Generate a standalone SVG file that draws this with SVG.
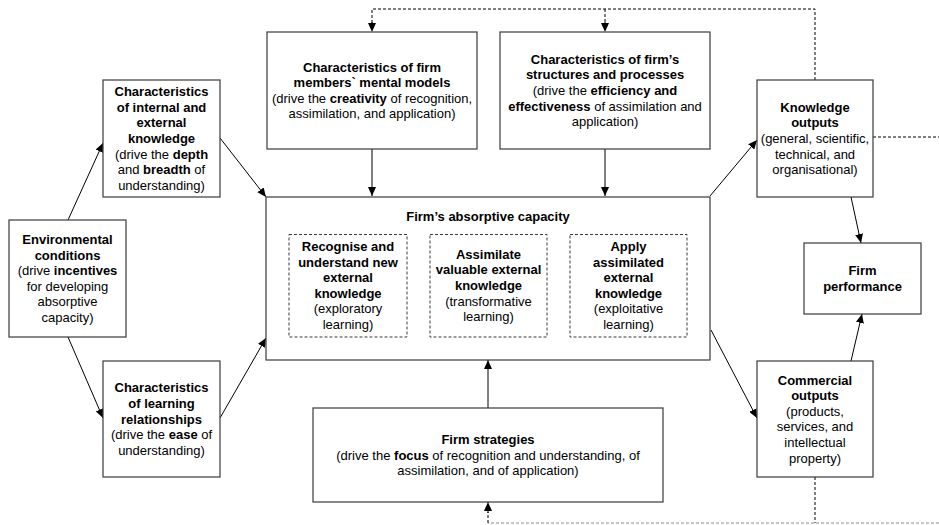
<svg xmlns="http://www.w3.org/2000/svg" width="939" height="525" viewBox="0 0 939 525">
  <style>
    .box { fill: #ffffff; stroke: #3a3a3a; stroke-width: 1.2; }
    .inner { fill: #ffffff; stroke: #3a3a3a; stroke-width: 1; stroke-dasharray: 3 2; }
    .t { font-family: "Liberation Sans", Arial, sans-serif; font-size: 13px; fill: #000; text-anchor: middle; }
    .b { font-weight: bold; }
    .arrow { fill: none; stroke: #000; stroke-width: 1; marker-end: url(#head); }
    .dash { fill: none; stroke: #000; stroke-width: 1; stroke-dasharray: 3 2; }
    .dash-grey { fill: none; stroke: #8a8a8a; stroke-width: 1; stroke-dasharray: 3 2; }
  </style>
  <defs>
    <marker id="head" markerWidth="10" markerHeight="8" refX="9" refY="4" orient="auto" markerUnits="userSpaceOnUse">
      <path d="M0,0 L9,4 L0,8 Z" fill="#000"/>
    </marker>
  </defs>

  <rect width="939" height="525" fill="#ffffff"/>

  <!-- connectors -->
  <g id="connectors">
    <!-- feedback from knowledge outputs to the top boxes -->
    <path class="dash" d="M815,80 V9 H372 V23"/>
    <path class="dash" d="M605,9 V23"/>
    <path class="arrow" d="M372,22 V32" stroke-dasharray="3 2"/>
    <path class="arrow" d="M605,22 V32" stroke-dasharray="3 2"/>
    <!-- outflow from knowledge outputs -->
    <path class="dash" d="M873,137 H939"/>
    <!-- feedback from commercial outputs to firm strategies -->
    <path class="dash" d="M815,477 V523"/>
    <path class="dash-grey" d="M939,523 H488"/>
    <path class="dash" d="M488,523 V512"/>
    <path class="arrow" d="M488,513 V502" stroke-dasharray="3 2"/>

    <!-- environment to characteristics -->
    <path class="arrow" d="M68,220 L103,143"/>
    <path class="arrow" d="M68,337 L103,418"/>
    <!-- characteristics to absorptive capacity -->
    <path class="arrow" d="M220,138 L266,197"/>
    <path class="arrow" d="M220,418 L266,338"/>
    <path class="arrow" d="M372,149 V196"/>
    <path class="arrow" d="M605,149 V196"/>
    <path class="arrow" d="M488,408 V360"/>
    <!-- inner process steps -->
    <path class="arrow" d="M407,286 H430"/>
    <path class="arrow" d="M547,286 H570"/>
    <!-- outputs -->
    <path class="arrow" d="M710,196 L757,140"/>
    <path class="arrow" d="M711,330 L757,418"/>
    <path class="arrow" d="M851,197 L861,243"/>
    <path class="arrow" d="M851,361 L862,314"/>
  </g>

  <g id="env">
    <rect class="box" x="9" y="220" width="117" height="117"/>
    <text class="t b" x="67.5" y="244">Environmental</text>
    <text class="t b" x="67.5" y="259.6">conditions</text>
    <text class="t" x="67.5" y="275.2">(drive <tspan class="b">incentives</tspan></text>
    <text class="t" x="67.5" y="290.8">for developing</text>
    <text class="t" x="67.5" y="306.4">absorptive</text>
    <text class="t" x="67.5" y="322">capacity)</text>
  </g>

  <g id="knowledge-chars">
    <rect class="box" x="103" y="80" width="117" height="117"/>
    <text class="t b" x="161.5" y="96.2">Characteristics</text>
    <text class="t b" x="161.5" y="111.8">of internal and</text>
    <text class="t b" x="161.5" y="127.4">external</text>
    <text class="t b" x="161.5" y="143">knowledge</text>
    <text class="t" x="161.5" y="158.6">(drive the <tspan class="b">depth</tspan></text>
    <text class="t" x="161.5" y="174.2">and <tspan class="b">breadth</tspan> of</text>
    <text class="t" x="161.5" y="189.8">understanding)</text>
  </g>

  <g id="relationship-chars">
    <rect class="box" x="103" y="361" width="117" height="116"/>
    <text class="t b" x="161.5" y="392.3">Characteristics</text>
    <text class="t b" x="161.5" y="407.9">of learning</text>
    <text class="t b" x="161.5" y="423.5">relationships</text>
    <text class="t" x="161.5" y="439.1">(drive the <tspan class="b">ease</tspan> of</text>
    <text class="t" x="161.5" y="454.7">understanding)</text>
  </g>

  <g id="mental-models">
    <rect class="box" x="267" y="32" width="210" height="117"/>
    <text class="t b" x="372" y="71.6">Characteristics of firm</text>
    <text class="t b" x="372" y="87.2">members` mental models</text>
    <text class="t" x="372" y="102.8">(drive the <tspan class="b">creativity</tspan> of recognition,</text>
    <text class="t" x="372" y="118.4">assimilation, and application)</text>
  </g>

  <g id="structures">
    <rect class="box" x="500" y="32" width="210" height="117"/>
    <text class="t b" x="605" y="63.8">Characteristics of firm’s</text>
    <text class="t b" x="605" y="79.4">structures and processes</text>
    <text class="t" x="605" y="95">(drive the <tspan class="b">efficiency and</tspan></text>
    <text class="t" x="605" y="110.6"><tspan class="b">effectiveness</tspan> of assimilation and</text>
    <text class="t" x="605" y="126.2">application)</text>
  </g>

  <g id="absorptive-capacity">
    <rect class="box" x="266" y="197" width="444" height="163"/>
    <text class="t b" x="488" y="220.5">Firm’s absorptive capacity</text>
  </g>

  <g id="recognise">
    <rect class="inner" x="289" y="234.5" width="118" height="102.5"/>
    <text class="t b" x="348" y="251">Recognise and</text>
    <text class="t b" x="348" y="266.6">understand new</text>
    <text class="t b" x="348" y="282.2">external</text>
    <text class="t b" x="348" y="297.8">knowledge</text>
    <text class="t" x="348" y="313.4">(exploratory</text>
    <text class="t" x="348" y="329">learning)</text>
  </g>

  <g id="assimilate">
    <rect class="inner" x="430" y="234.5" width="117" height="102.5"/>
    <text class="t b" x="488.5" y="258.8">Assimilate</text>
    <text class="t b" x="488.5" y="274.4">valuable external</text>
    <text class="t b" x="488.5" y="290">knowledge</text>
    <text class="t" x="488.5" y="305.6">(transformative</text>
    <text class="t" x="488.5" y="321.2">learning)</text>
  </g>

  <g id="apply">
    <rect class="inner" x="570" y="234.5" width="117" height="102.5"/>
    <text class="t b" x="628.5" y="251">Apply</text>
    <text class="t b" x="628.5" y="266.6">assimilated</text>
    <text class="t b" x="628.5" y="282.2">external</text>
    <text class="t b" x="628.5" y="297.8">knowledge</text>
    <text class="t" x="628.5" y="313.4">(exploitative</text>
    <text class="t" x="628.5" y="329">learning)</text>
  </g>

  <g id="strategies">
    <rect class="box" x="313" y="408" width="350" height="94"/>
    <text class="t b" x="488" y="443.9">Firm strategies</text>
    <text class="t" x="488" y="459.5">(drive the <tspan class="b">focus</tspan> of recognition and understanding, of</text>
    <text class="t" x="488" y="475.1">assimilation, and of application)</text>
  </g>

  <g id="knowledge-outputs">
    <rect class="box" x="757" y="80" width="116" height="117"/>
    <text class="t b" x="815" y="111.8">Knowledge</text>
    <text class="t b" x="815" y="127.4">outputs</text>
    <text class="t" x="815" y="143">(general, scientific,</text>
    <text class="t" x="815" y="158.6">technical, and</text>
    <text class="t" x="815" y="174.2">organisational)</text>
  </g>

  <g id="performance">
    <rect class="box" x="804" y="243" width="117" height="71"/>
    <text class="t b" x="862.5" y="275.2">Firm</text>
    <text class="t b" x="862.5" y="290.8">performance</text>
  </g>

  <g id="commercial-outputs">
    <rect class="box" x="757" y="361" width="116" height="116"/>
    <text class="t b" x="815" y="384.5">Commercial</text>
    <text class="t b" x="815" y="400.1">outputs</text>
    <text class="t" x="815" y="415.7">(products,</text>
    <text class="t" x="815" y="431.3">services, and</text>
    <text class="t" x="815" y="446.9">intellectual</text>
    <text class="t" x="815" y="462.5">property)</text>
  </g>
</svg>
